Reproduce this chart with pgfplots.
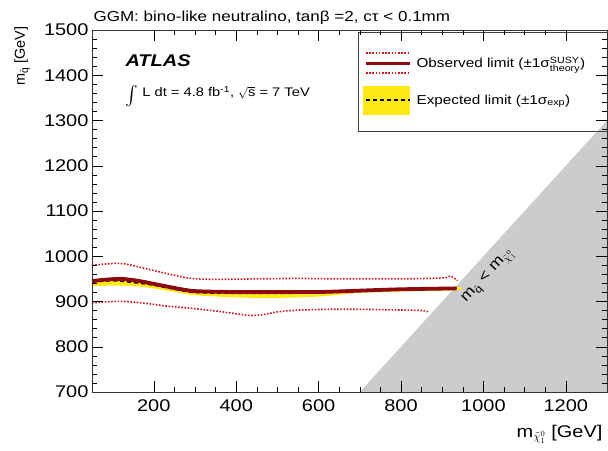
\documentclass[border=0pt]{standalone}
\usepackage{fontspec}
\setmainfont{Liberation Sans}[FakeStretch=1.18]
\newfontfamily\plainsans{Liberation Sans}
\usepackage{amsmath}
\usepackage{graphicx}
\usepackage{pgfplots}
\pgfplotsset{compat=1.18}
\usetikzlibrary{calc}
\definecolor{obsred}{RGB}{140,10,15}
\definecolor{dotred}{RGB}{205,25,30}
\definecolor{bandyel}{RGB}{255,232,20}
\definecolor{exclgray}{RGB}{204,204,204}

\begin{document}
\begin{tikzpicture}
\begin{axis}[name=ax, scale only axis, width=515bp, height=362bp,
  xmin=50, xmax=1300, ymin=700, ymax=1500,
  xtick={200,400,...,1200}, ytick={700,800,...,1500},
  minor x tick num=3, minor y tick num=4,
  tick pos=both, tick align=inside,
  major tick length=11bp, minor tick length=5.5bp,
  every tick/.style={black, line width=0.5pt},
  axis line style={line width=0.7pt, black!80},
  /pgf/number format/assume math mode=true,
  /pgf/number format/1000 sep={},
  tick label style={font=\fontsize{17}{19}\selectfont},
  xticklabel style={yshift=-4bp},
  axis on top,
  legend style={at={(rel axis cs:0.526,0.949)}, anchor=north west,
    draw=none, fill=none, inner sep=0pt, row sep=8bp, column sep=3bp,
    font=\fontsize{13}{15}\selectfont, cells={anchor=west}},
]
% legend entries
\addlegendimage{legend image code/.code={
  \path[draw=none, fill=none] (0bp,-14.5bp) rectangle (47bp,14.5bp);
  \draw[dotred, line width=1.6bp, dash pattern=on 1.6bp off 1.6bp] (3bp,10bp) -- (47bp,10bp);
  \draw[obsred, line width=3bp] (3bp,0bp) -- (47bp,0bp);
  \draw[dotred, line width=1.6bp, dash pattern=on 1.6bp off 1.6bp] (3bp,-10bp) -- (47bp,-10bp);
}}
\addlegendentry{Observed limit (±1σ$^{\text{SUSY}}_{\text{theory}}$)}
\addlegendimage{legend image code/.code={
  \fill[bandyel, draw=none] (0bp,-14.5bp) rectangle (47bp,14.5bp);
  \draw[black, line width=1.5bp, dash pattern=on 4bp off 3bp] (3bp,0bp) -- (47bp,0bp);
}}
\addlegendentry{Expected limit (±1σ$_{\text{exp}}$)}

% kinematically forbidden region
\addplot[fill=exclgray, draw=none, forget plot] coordinates {(700,700) (1300,1300) (1300,700)} -- cycle;

% expected band
\addplot[fill=bandyel, draw=none, forget plot, smooth] coordinates {
  (50,945) (100,947) (150,944) (200,937) (250,929) (300,922) (400,921) (500,921) (600,922) (700,926) (800,929) (935,932)
  (935,925) (800,922) (700,919) (600,911) (500,908) (400,909) (300,914) (250,921) (200,929) (150,934) (100,935) (50,934)
} -- cycle;

% theory uncertainty on observed
\addplot[dotred, line width=1.6bp, dash pattern=on 1.6bp off 1.6bp, smooth, forget plot] coordinates {
  (50,980) (100,984) (130,983) (170,975) (230,962) (290,951) (350,949) (450,950) (550,951) (650,950) (800,950) (900,952) (920,956) (937,946)
};
\addplot[dotred, line width=1.6bp, dash pattern=on 1.6bp off 1.6bp, smooth, forget plot] coordinates {
  (50,897) (100,900) (130,900) (180,896) (230,890) (290,885) (350,879) (400,873) (435,869) (465,871) (500,877) (550,881) (650,883) (750,882) (850,880) (865,877)
};

% expected
\addplot[black, line width=1.5bp, dash pattern=on 4bp off 3bp, smooth, forget plot] coordinates {
  (50,943) (100,946) (150,942) (200,936) (250,927) (300,920) (400,918) (500,918) (600,919) (700,923) (800,926) (935,929)
};

% observed
\addplot[obsred, line width=3.8bp, smooth, forget plot] coordinates {
  (50,945) (80,948) (120,950) (160,946) (200,939) (250,930) (300,923) (400,921) (500,921) (600,921) (700,924) (800,927) (935,929)
};

\draw[black!75, line width=0.6bp] (rel axis cs:0.518,0.994) rectangle (rel axis cs:1,0.721);

\node[rotate=47.5, font=\fontsize{15}{17}\selectfont] at (axis cs:1012,955)
  {m$_{\tilde{\text{q}}}$ < m$_{\tilde{\chi}^0_1}$};
\end{axis}

\node[anchor=base west, font=\fontsize{14.5}{16}\selectfont] at ($(ax.north west)+(-2bp,8bp)$)
  {GGM: bino-like neutralino, tanβ =2, cτ < 0.1mm};
\node[anchor=base west, font=\fontsize{17}{19}\selectfont\bfseries\itshape] at ($(ax.north west)+(30bp,-37bp)$) {ATLAS};
\node[anchor=base west, font=\fontsize{12.5}{14}\selectfont] at ($(ax.north west)+(30bp,-67bp)$)
  {\raisebox{-0.3em}{\scalebox{1.6}{$\int$}} L dt = 4.8 fb$^{\text{-1}}$, $\sqrt{\text{s}}$ = 7 TeV};
\node[rotate=90, anchor=base east, font=\plainsans\fontsize{14.5}{16}\selectfont] at ($(ax.north west)+(-67bp,7bp)$)
  {m$_{\tilde{\text{q}}}$ [GeV]};
\node[anchor=base east, font=\fontsize{17}{19}\selectfont] at ($(ax.south east)+(-1bp,-45bp)$)
  {m$_{\tilde{\chi}^0_1}$ [GeV]};

\pgfresetboundingbox
\path[use as bounding box] ($(ax.south west)+(-92bp,-59bp)$) rectangle ($(ax.north east)+(1bp,30bp)$);
\end{tikzpicture}
\end{document}
